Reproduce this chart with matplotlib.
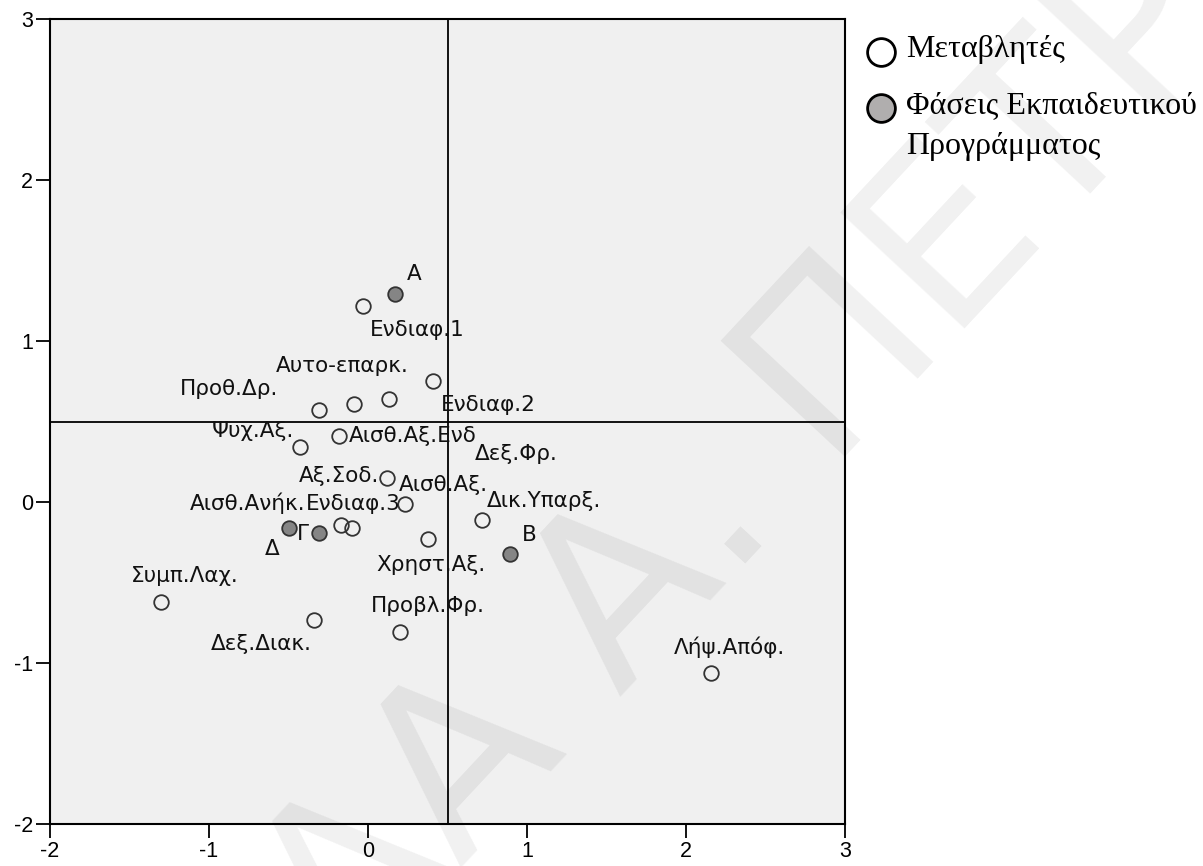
import matplotlib
matplotlib.use("Agg")
import matplotlib.pyplot as plt
from matplotlib.lines import Line2D

plt.rcParams['axes.unicode_minus'] = False
plt.rcParams['font.family'] = ['Liberation Sans', 'DejaVu Sans']

# variables (open circles)
var_names = ['Ενδιαφ.1', 'Ενδιαφ.2', 'Αυτο-επαρκ.', 'Δεξ.Φρ.', 'Προθ.Δρ.', 'Ψυχ.Αξ.',
             'Αισθ.Αξ.Ενδ', 'Αξ.Σοδ.', 'Αισθ.Αξ.', 'Αισθ.Ανήκ.', 'Ενδιαφ.3', 'Χρηστ.Αξ.',
             'Δικ.Υπαρξ.', 'Συμπ.Λαχ.', 'Δεξ.Διακ.', 'Προβλ.Φρ.', 'Λήψ.Απόφ.']
var_x = [-0.03, 0.41, 0.13, -0.09, -0.31, -0.43, -0.18, 0.12, 0.23, -0.17, -0.10, 0.38,
         0.72, -1.30, -0.34, 0.20, 2.16]
var_y = [1.22, 0.75, 0.64, 0.61, 0.57, 0.34, 0.41, 0.15, -0.01, -0.14, -0.16, -0.23,
         -0.11, -0.62, -0.73, -0.81, -1.06]

# phases of the programme (filled circles)
phase_names = ['Α', 'Β', 'Γ', 'Δ']
phase_x = [0.17, 0.89, -0.31, -0.50]
phase_y = [1.29, -0.32, -0.19, -0.16]

# label offsets in pixels (left edge, vertical centre)
var_offsets = [(7, -24), (8, -24), (-113, 33), (121, -50), (-139, 21), (-88, 16),
               (9, 0), (-88, 2), (-6, 19), (-151, 21), (-46, 24), (-52, -26),
               (4, 19), (-30, 26), (-103, -24), (-29, 26), (-38, 25)]
phase_offsets = [(12, 20), (12, 19), (-22, -1), (-24, -21)]

fig = plt.figure(figsize=(12.03, 8.66), dpi=100)
ax = fig.add_axes([50 / 1203, 1 - 824 / 866, 795 / 1203, 805 / 866])
ax.set_facecolor('#f0f0f0')

# watermark
fig.text(862 / 1203, 1 - 345 / 866, 'ΛΑ Α. ΠΕΤΡΟΥ', fontsize=168, family='DejaVu Sans',
         color='black', alpha=0.06, rotation=47, ha='center', va='center',
         rotation_mode='anchor', zorder=10)

ax.axhline(0.5, color='black', lw=1.3, zorder=1)
ax.axvline(0.5, color='black', lw=1.3, zorder=1)

ax.plot(var_x, var_y, 'o', ms=10.5, mfc='none', mec='#333333', mew=1.3, zorder=3)
ax.plot(phase_x, phase_y, 'o', ms=10.5, mfc='#858585', mec='#333333', mew=1.3, zorder=3)

for name, x, y, off in zip(var_names, var_x, var_y, var_offsets):
    ax.annotate(name, (x, y), xytext=off, textcoords='offset pixels',
                ha='left', va='center', fontsize=15.5, family='DejaVu Sans',
                color='#111111', zorder=4)
for name, x, y, off in zip(phase_names, phase_x, phase_y, phase_offsets):
    ax.annotate(name, (x, y), xytext=off, textcoords='offset pixels',
                ha='left', va='center', fontsize=15.5, family='DejaVu Sans',
                color='#111111', zorder=4)

ax.set_xlim(-2, 3)
ax.set_ylim(-2, 3)
ax.set_xticks(range(-2, 4))
ax.set_yticks(range(-2, 4))
ax.tick_params(direction='out', length=10, width=1.3, labelsize=15.5, pad=2, colors='black')
for s in ax.spines.values():
    s.set_linewidth(1.5)

# legend drawn by hand
legend_items = [('Μεταβλητές', 'white', 52), ('Φάσεις Εκπαιδευτικού\nΠρογράμματος', '#b0aeae', 108)]
for label, fc, ypix in legend_items:
    fig.add_artist(Line2D([881 / 1203], [1 - ypix / 866], transform=fig.transFigure,
                          marker='o', ms=20, mfc=fc, mec='black', mew=2))
    fig.text(906 / 1203, 1 - (ypix - 17) / 866, label, fontsize=23,
             family=['Liberation Serif', 'DejaVu Serif'], ha='left', va='top',
             linespacing=1.55)

fig.savefig('out.png', dpi=100)
